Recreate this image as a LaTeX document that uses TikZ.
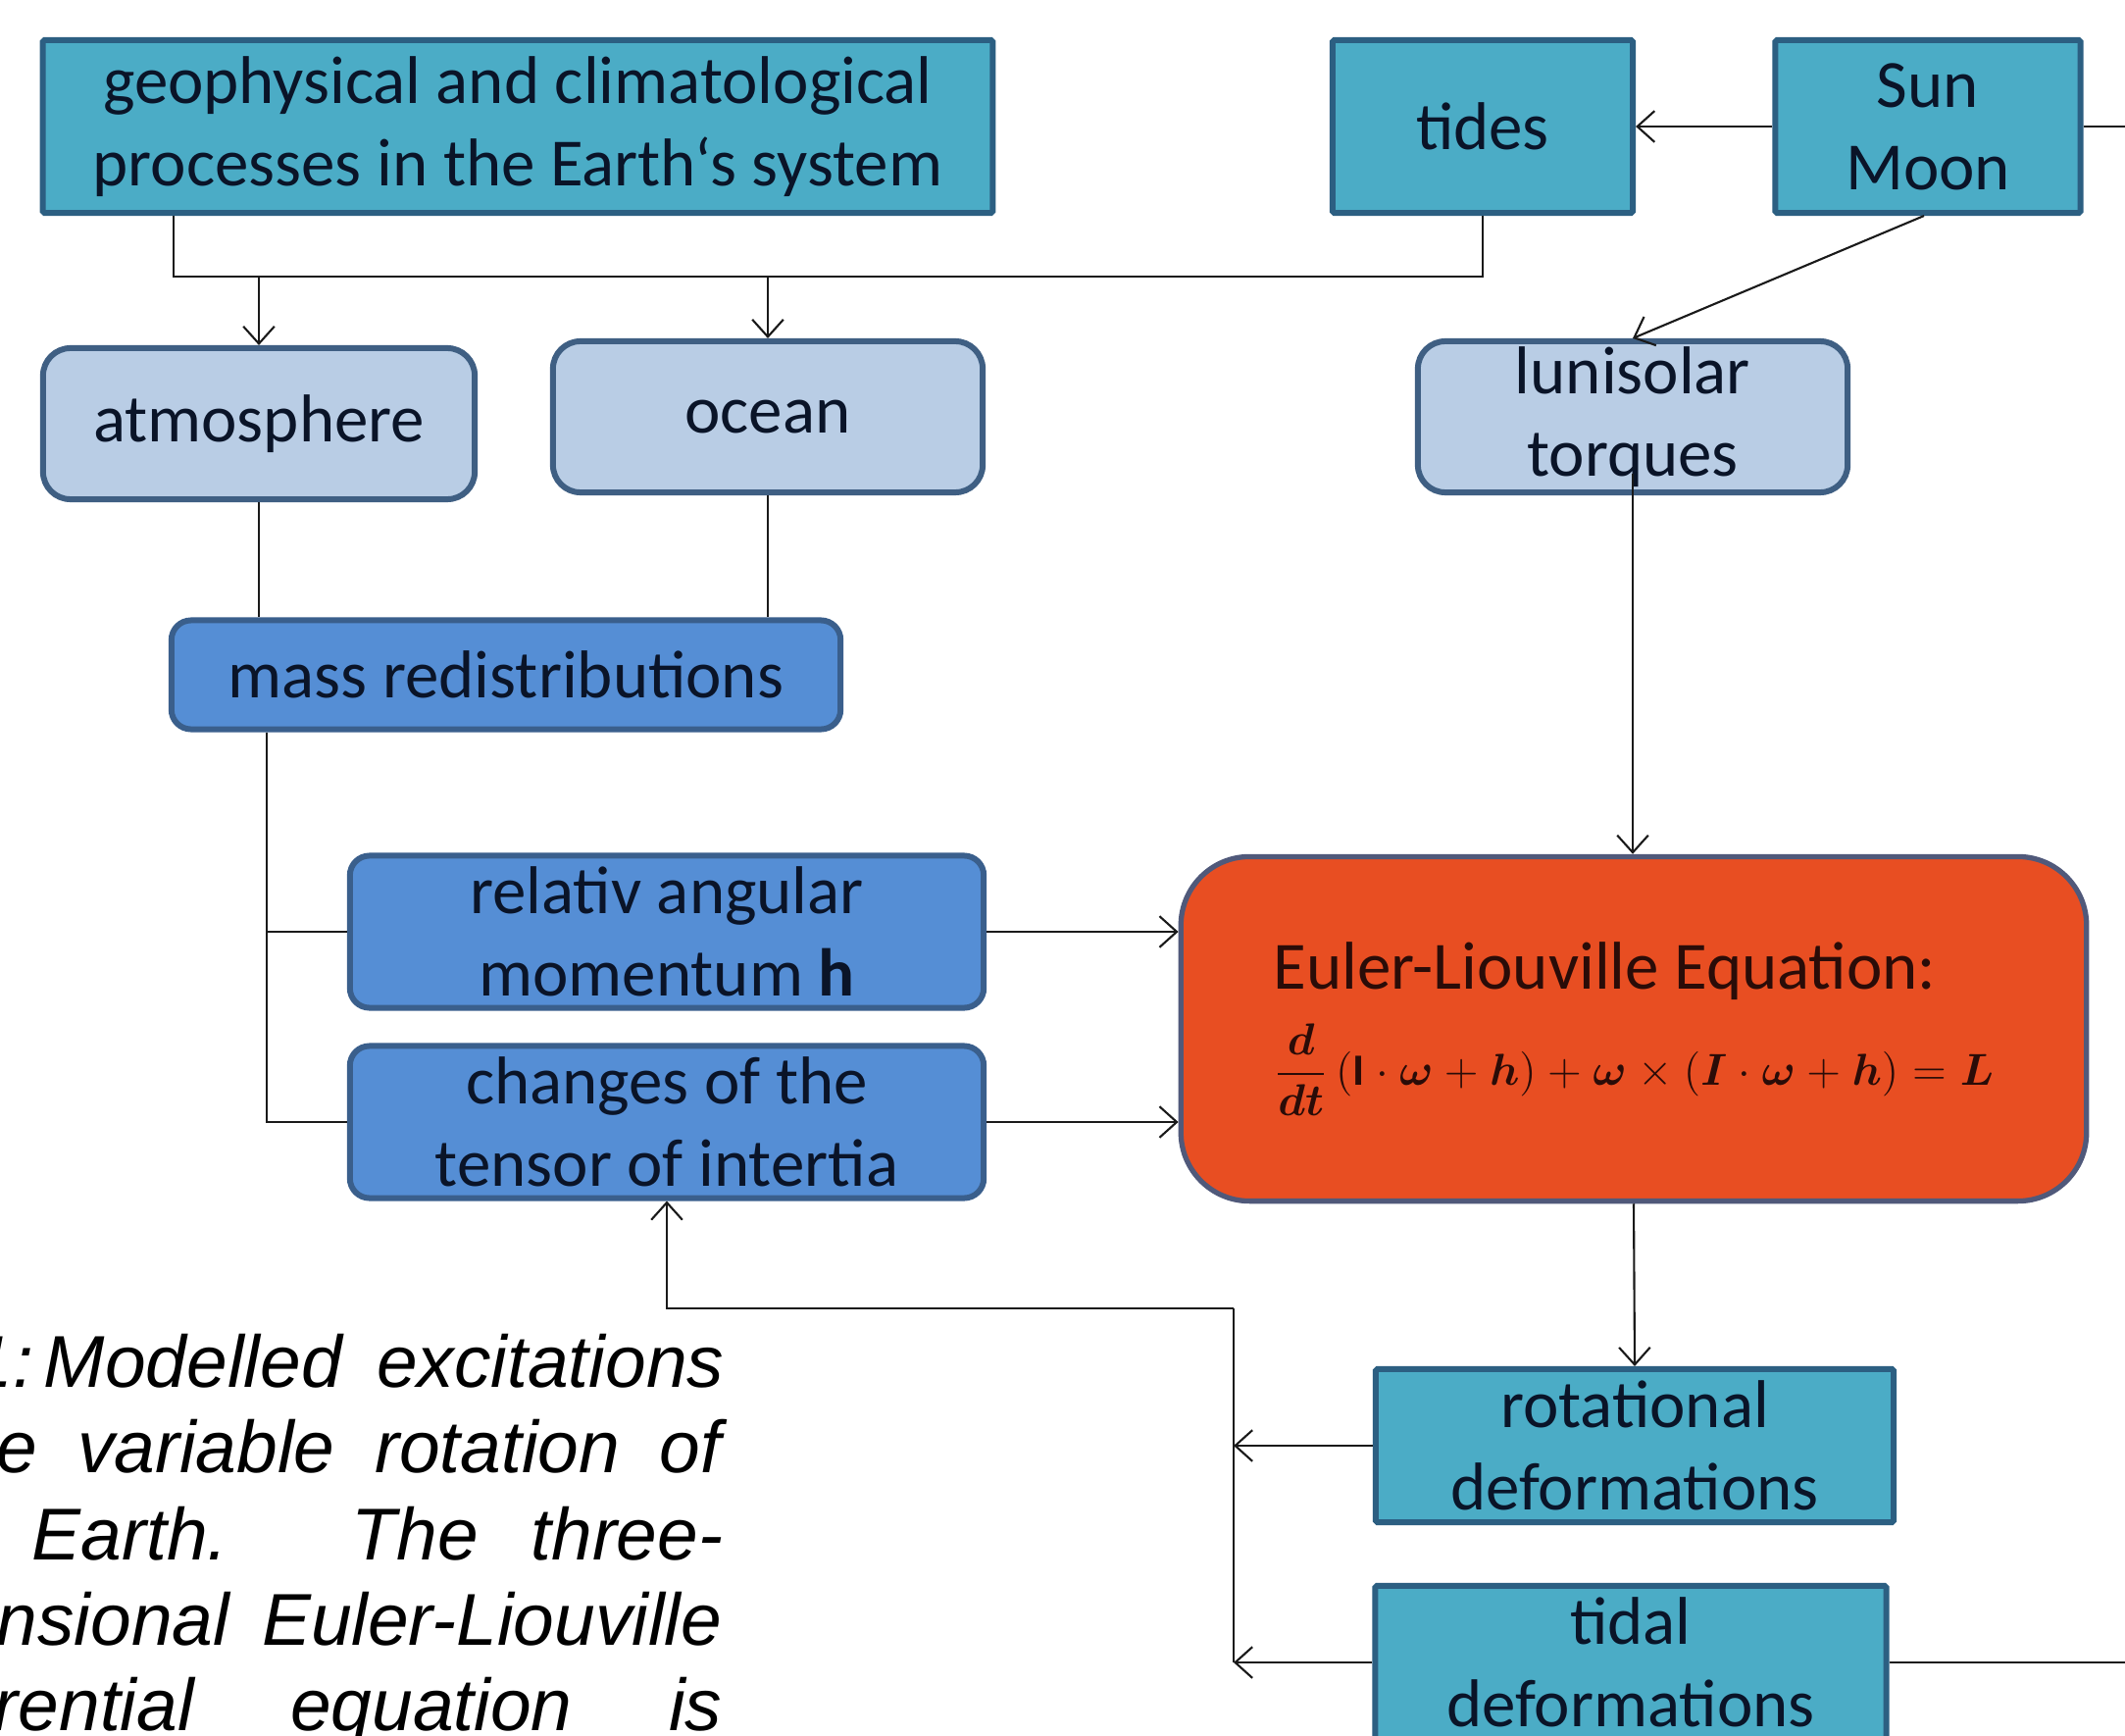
\documentclass[tikz,border=0pt]{standalone}
\usepackage{fontspec}
\usepackage{graphicx}
\usepackage{amsmath}
\usepackage{bm}
\setmainfont{Carlito}
\newfontfamily\capfont{Liberation Sans}
\usetikzlibrary{arrows.meta,calc}
\definecolor{cTeal}{HTML}{4BACC6}
\definecolor{cTealB}{HTML}{2C5F82}
\definecolor{cLight}{HTML}{B9CDE5}
\definecolor{cLightB}{HTML}{3F5F83}
\definecolor{cMid}{HTML}{558ED5}
\definecolor{cMidB}{HTML}{3A5F8C}
\definecolor{cEuler}{HTML}{E84E22}
\definecolor{cEulerB}{HTML}{50597A}
\definecolor{cText}{HTML}{0A1428}
\definecolor{cEText}{HTML}{2A0C08}
\definecolor{cLine}{HTML}{1A1A1A}
\newcommand{\eleq}{\scalebox{1.08}{\fontsize{12pt}{14pt}\selectfont
  \medmuskip=4.5mu plus 2mu minus 2mu \thickmuskip=5.5mu plus 2mu
  $\displaystyle \frac{\bm{d}}{\bm{dt}}\,(\mathbf{I}\cdot\bm{\omega}+\bm{h})+\bm{\omega}\times(\bm{I}\cdot\bm{\omega}+\bm{h})=\bm{L}$}}
\tikzset{
  boxfont/.style={font=\fontsize{19.6pt}{23.9pt}\selectfont, text=cText, align=center, inner sep=0pt},
  tealbox/.style={boxfont, draw=cTealB, fill=cTeal, line width=1.7pt, rounded corners=0.5pt},
  lightbox/.style={boxfont, draw=cLightB, fill=cLight, line width=1.7pt, rounded corners=0.28cm},
  midbox/.style={boxfont, draw=cMidB, fill=cMid, line width=1.7pt, rounded corners=0.2cm},
  eulerbox/.style={boxfont, text=cEText, draw=cEulerB, fill=cEuler, line width=1.5pt, rounded corners=0.7cm},
  conn/.style={draw=cLine, line width=0.6pt},
  arr/.style={conn, -{Straight Barb[length=5pt,width=9pt]}},
  capline/.style={font=\capfont\itshape\fontsize{21.3pt}{24.8pt}\selectfont, anchor=base east, inner sep=0pt, text=black}
}
\begin{document}
\begin{tikzpicture}[x=0.01cm,y=-0.01cm]
\fill[white] (0,0) rectangle (2167,1770);
\useasboundingbox (0,0) rectangle (2167,1770);

% nodes
\node[tealbox, minimum width=9.68cm, minimum height=1.76cm] (geo) at (528,129)
  {geophysical and climatological\\processes in the Earth‘s system};
\node[tealbox, minimum width=3.06cm, minimum height=1.76cm] (tides) at (1512,129) {tides};
\node[tealbox, minimum width=3.11cm, minimum height=1.76cm] (sun) at (1966,129) {Sun\\Moon};
\node[lightbox, minimum width=4.40cm, minimum height=1.54cm] (atm) at (264,432) {atmosphere};
\node[lightbox, minimum width=4.38cm, minimum height=1.54cm] (ocean) at (783,425) {ocean};
\node[lightbox, minimum width=4.38cm, minimum height=1.54cm] (lun) at (1665,425) {lunisolar\\torques};
\node[midbox, minimum width=6.82cm, minimum height=1.11cm] (mass) at (516,688) {mass redistributions};
\node[midbox, minimum width=6.46cm, minimum height=1.55cm] (rel) at (680,950) {relativ angular\\momentum \textbf{h}};
\node[midbox, minimum width=6.46cm, minimum height=1.55cm] (chg) at (680,1144) {changes of the\\tensor of intertia};
\node[eulerbox, minimum width=9.23cm, minimum height=3.51cm, align=left] (euler) at (1666,1049)
  {Euler-Liouville Equation:\\[4pt]\eleq};
\node[tealbox, minimum width=5.28cm, minimum height=1.56cm] (rot) at (1667,1474) {rotational\\deformations};
\node[tealbox, minimum width=5.21cm, minimum height=1.56cm] (tidal) at (1663,1695) {tidal\\deformations};

% caption (cut off at the left edge)
\node[capline] (c1) at (739,1414) {\llap{1:\kern3pt}\makebox[6.93cm][s]{Modelled excitations}};
\node[capline] (c2) at (736,1501) {\makebox[7.38cm][s]{e variable rotation of}};
\node[capline] (c3) at (738,1590) {\makebox[7.04cm][s]{Earth. The three-}};
\node[capline] (c4) at (737,1677) {\makebox[7.39cm][s]{nsional Euler-Liouville}};
\node[capline] (c5) at (737,1764) {\makebox[7.42cm][s]{rential equation is}};

% helper coordinates
\coordinate (j) at (177,282);
\coordinate (k) at (272,0);
\coordinate (eR) at (2167,0);
\coordinate (v) at (1258,1334);

% connectors
\draw[conn] (tides.south) |- (j) -- (j |- geo.south);
\draw[arr] (atm.north |- j) -- (atm.north);
\draw[arr] (ocean.north |- j) -- (ocean.north);
\draw[arr] (sun.west) -- (tides.east);
\draw[conn] (sun.east) -- (sun.east -| eR);
\draw[arr] ([xshift=-0.04cm]sun.south) -- (lun.north);
\draw[conn] (atm.south) -- (atm.south |- mass.north);
\draw[conn] (ocean.south) -- (ocean.south |- mass.north);
\draw[conn] (mass.south -| k) |- (chg.west);
\draw[conn] (k |- rel.west) -- (rel.west);
\draw[arr] (rel.east) -- (rel.east -| euler.west);
\draw[arr] (chg.east) -- (chg.east -| euler.west);
\draw[arr] ([yshift=0.22cm]lun.south) -- (lun.south |- euler.north);
\draw[arr] (euler.south) -- (rot.north);
\draw[arr] (v) -| (chg.south);
\draw[conn] (v) -- (v |- tidal.west);
\draw[arr] (rot.west) -- (rot.west -| v);
\draw[arr] (tidal.west) -- (tidal.west -| v);
\draw[conn] (tidal.east) -- (tidal.east -| eR);
\end{tikzpicture}
\end{document}
